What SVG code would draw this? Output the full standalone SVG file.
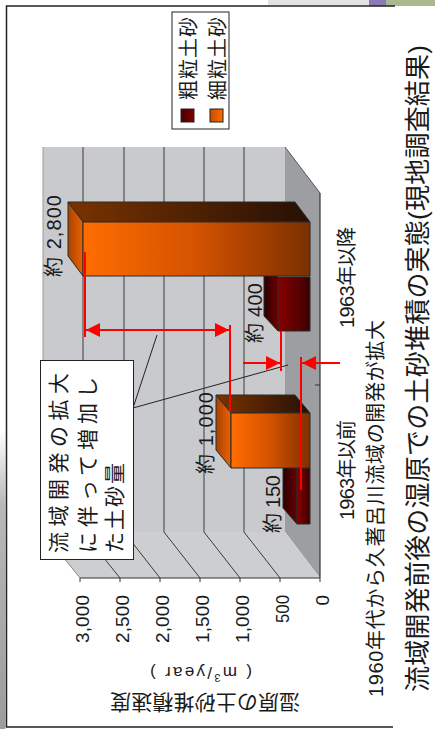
<svg xmlns="http://www.w3.org/2000/svg" width="435" height="729" viewBox="0 0 435 729">
<defs>
<style>
text{font-family:"Liberation Sans","Noto Sans CJK JP",sans-serif;fill:#1a1a1a;dominant-baseline:central}
.grid{stroke:#3c3c3c;stroke-width:1;fill:none}
.bar{stroke:#2b2b2b;stroke-width:1;stroke-linejoin:round}
.red{stroke:#ff0000;stroke-width:2;fill:none}
.lead{stroke:#222;stroke-width:1;fill:none}
.frame{stroke:#222;stroke-width:1.5;fill:none}
.lbl{font-size:20px;fill:#262626}
.ax{font-size:19px}
</style>
<linearGradient id="gOrFront" x1="0" y1="0" x2="1" y2="0"><stop offset="0" stop-color="#ff6d00"/><stop offset="0.5" stop-color="#d45200"/><stop offset="1" stop-color="#7c3000"/></linearGradient>
<linearGradient id="gOrTop" x1="0" y1="0" x2="1" y2="0"><stop offset="0" stop-color="#7a3300"/><stop offset="1" stop-color="#261005"/></linearGradient>
<linearGradient id="gOrLeft" x1="0" y1="0" x2="1" y2="0"><stop offset="0" stop-color="#a84200"/><stop offset="1" stop-color="#ec6200"/></linearGradient>
<linearGradient id="gRdFront" x1="0" y1="0" x2="1" y2="0"><stop offset="0" stop-color="#8a0000"/><stop offset="1" stop-color="#3c0000"/></linearGradient>
<linearGradient id="gRdLeft" x1="0" y1="0" x2="1" y2="0"><stop offset="0" stop-color="#2a0000"/><stop offset="1" stop-color="#6a0000"/></linearGradient>
<linearGradient id="gLeg1" x1="0" y1="0" x2="1" y2="0"><stop offset="0" stop-color="#4a0000"/><stop offset="1" stop-color="#800000"/></linearGradient>
<linearGradient id="gLeg2" x1="0" y1="0" x2="1" y2="0"><stop offset="0" stop-color="#c84c00"/><stop offset="1" stop-color="#ff6d00"/></linearGradient>
<linearGradient id="gTex" x1="0" y1="0" x2="0" y2="1"><stop offset="0" stop-color="#ffffff"/><stop offset="0.25" stop-color="#b8b8b8"/><stop offset="1" stop-color="#9c9c9c"/></linearGradient>
<marker id="ah" viewBox="0 0 14 14" refX="14" refY="7" markerWidth="14" markerHeight="14" markerUnits="userSpaceOnUse" orient="auto-start-reverse"><path d="M0,0 L14,7 L0,14 z" fill="#ff0000"/></marker>
</defs>

<g id="background">
<rect x="0" y="0" width="435" height="729" fill="#ffffff"/>
<rect x="268" y="0" width="101" height="5" fill="#e2e2e2"/>
<rect x="369" y="0" width="17" height="6" fill="#8c7ab5"/>
<rect x="386" y="0" width="49" height="6" fill="#a9b98e"/>
<rect x="0" y="430" width="5.5" height="299" fill="url(#gTex)"/>
</g>

<g id="frame">
<path class="frame" d="M395,6 H6.5 V727 H393"/>
</g>

<g id="plot-area">
<rect id="back-wall" x="43" y="147" width="242" height="385" fill="#c9cacd"/>
<polygon id="floor" points="285,147 320,193 320,578 285,532" fill="#9d9ea2"/>
<polygon id="side-wall" points="43,532 285,532 320,578 80,578" fill="#cdced0"/>
<g class="grid">
<line x1="83" y1="147" x2="83" y2="532"/>
<line x1="124" y1="147" x2="124" y2="532"/>
<line x1="164" y1="147" x2="164" y2="532"/>
<line x1="204" y1="147" x2="204" y2="532"/>
<line x1="244" y1="147" x2="244" y2="532"/>
<line x1="83" y1="532" x2="120" y2="578"/>
<line x1="124" y1="532" x2="160" y2="578"/>
<line x1="164" y1="532" x2="200" y2="578"/>
<line x1="204" y1="532" x2="240" y2="578"/>
<line x1="244" y1="532" x2="280" y2="578"/>
</g>
<line x1="43" y1="147" x2="43" y2="532" stroke="#9a9a9a" stroke-width="1"/>
<line x1="43" y1="532" x2="80" y2="578" stroke="#8a8a8a" stroke-width="1"/>
<line x1="285" y1="147" x2="320" y2="193" stroke="#555" stroke-width="1"/>
<line x1="320" y1="193" x2="320" y2="578" stroke="#333" stroke-width="1.2"/>
<line x1="80" y1="578" x2="320" y2="578" stroke="#333" stroke-width="1.2"/>
<g stroke="#333" stroke-width="1">
<line x1="80" y1="578" x2="80" y2="582"/><line x1="120" y1="578" x2="120" y2="582"/><line x1="160" y1="578" x2="160" y2="582"/><line x1="200" y1="578" x2="200" y2="582"/><line x1="240" y1="578" x2="240" y2="582"/><line x1="280" y1="578" x2="280" y2="582"/><line x1="320" y1="578" x2="320" y2="582"/>
<line x1="315" y1="385" x2="320" y2="385"/>
</g>
</g>

<g id="bar-after-coarse">
<polygon class="bar" points="264,260 278,277 278,331 264,316" fill="url(#gRdLeft)"/>
<rect class="bar" x="278" y="277" width="32" height="54" fill="url(#gRdFront)"/>
</g>
<g id="bar-after-fine">
<polygon class="bar" points="68,202 295,202 310,222 83,222" fill="url(#gOrTop)"/>
<polygon class="bar" points="68,202 83,222 83,276 68,256" fill="url(#gOrLeft)"/>
<rect class="bar" x="83" y="222" width="227" height="54" fill="url(#gOrFront)"/>
</g>
<g id="bar-before-coarse">
<polygon class="bar" points="283,452 297,468 297,524 283,508" fill="url(#gRdLeft)"/>
<rect class="bar" x="297" y="468" width="13" height="56" fill="url(#gRdFront)"/>
</g>
<g id="bar-before-fine">
<polygon class="bar" points="216,395 295,395 310,413 231,413" fill="url(#gOrTop)"/>
<polygon class="bar" points="216,395 231,413 231,468 216,450" fill="url(#gOrLeft)"/>
<rect class="bar" x="231" y="413" width="79" height="55" fill="url(#gOrFront)"/>
</g>

<g id="data-labels" class="lbl">
<text transform="translate(54,277) rotate(-90)" textLength="82">約 2,800</text>
<text transform="translate(206,474) rotate(-90)" textLength="82">約 1,000</text>
<text transform="translate(255,343) rotate(-90)" textLength="60">約 400</text>
<text transform="translate(273,533) rotate(-90)" textLength="58">約 150</text>
</g>

<g id="value-axis-labels" class="ax" text-anchor="end">
<text transform="translate(82,595) rotate(-90)" textLength="48">3,000</text>
<text transform="translate(122,595) rotate(-90)" textLength="48">2,500</text>
<text transform="translate(162,595) rotate(-90)" textLength="48">2,000</text>
<text transform="translate(202,595) rotate(-90)" textLength="48">1,500</text>
<text transform="translate(242,595) rotate(-90)" textLength="48">1,000</text>
<text transform="translate(282,595) rotate(-90)" textLength="28" lengthAdjust="spacingAndGlyphs">500</text>
<text transform="translate(322,595) rotate(-90)">0</text>
</g>

<g id="value-axis-title">
<text transform="translate(205,702) rotate(180)" text-anchor="middle" font-size="21" textLength="190">湿原の土砂堆積速度</text>
<text transform="translate(201,672) rotate(180)" text-anchor="middle" font-size="17" textLength="102">( m<tspan font-size="11" baseline-shift="super">3</tspan>/year )</text>
</g>

<g id="category-labels" font-size="20">
<text transform="translate(347,328) rotate(-90)" textLength="101">1963年以降</text>
<text transform="translate(347,520) rotate(-90)" textLength="100">1963年以前</text>
</g>

<g id="legend">
<rect x="172" y="12" width="57" height="117" fill="#ffffff" stroke="#222" stroke-width="1"/>
<rect x="181" y="109" width="13" height="13" fill="url(#gLeg1)" stroke="#222" stroke-width="1"/>
<rect x="210" y="109" width="13" height="13" fill="url(#gLeg2)" stroke="#222" stroke-width="1"/>
<text transform="translate(189,100) rotate(-90)" font-size="20" textLength="83">粗粒土砂</text>
<text transform="translate(218,100) rotate(-90)" font-size="20" textLength="83">細粒土砂</text>
</g>

<g id="connectors">
<line class="lead" x1="133" y1="408" x2="157" y2="335"/>
<line class="lead" x1="133" y1="408" x2="288" y2="365"/>
<line class="red" x1="85" y1="252" x2="85" y2="337"/>
<line class="red" x1="230" y1="325" x2="230" y2="412"/>
<line class="red" x1="86" y1="330" x2="229" y2="330" marker-start="url(#ah)" marker-end="url(#ah)"/>
<line class="red" x1="281" y1="331" x2="281" y2="371"/>
<line class="red" x1="301" y1="357" x2="301" y2="490"/>
<line class="red" x1="243" y1="363" x2="280" y2="363" marker-end="url(#ah)"/>
<line class="red" x1="340" y1="363" x2="302" y2="363" marker-end="url(#ah)"/>
</g>

<g id="callout">
<rect x="40.5" y="360.5" width="93" height="199" fill="#ffffff" stroke="#222" stroke-width="1"/>
<text transform="translate(58,553) rotate(-90)" font-size="21" textLength="180">流域開発の拡大</text>
<text transform="translate(87,553) rotate(-90)" font-size="21" textLength="176">に伴って増加し</text>
<text transform="translate(114,553) rotate(-90)" font-size="21" textLength="90">た土砂量</text>
</g>

<g id="titles">
<text transform="translate(376,697) rotate(-90)" font-size="20" textLength="377">1960年代から久著呂川流域の開発が拡大</text>
<text transform="translate(418,692) rotate(-90)" font-size="26" textLength="647">流域開発前後の湿原での土砂堆積の実態(現地調査結果)</text>
</g>
</svg>
